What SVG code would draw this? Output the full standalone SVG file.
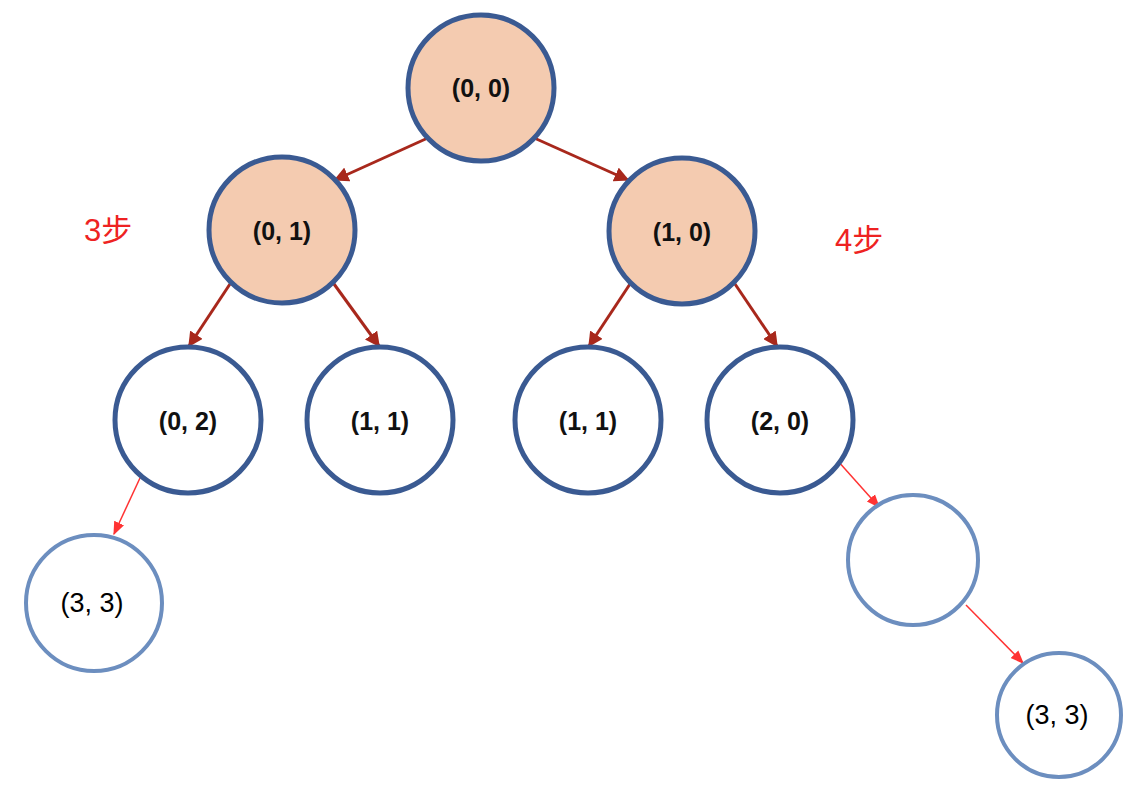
<svg xmlns="http://www.w3.org/2000/svg" width="1143" height="788" viewBox="0 0 1143 788">
<style>
.n{stroke:#3a5a92;stroke-width:5}
.f{fill:#f4cbb0}
.w{fill:#fff}
.m{fill:#fff;stroke:#6c8ebf;stroke-width:4}
.t{font-family:"Liberation Sans",Arial,sans-serif;font-size:25px;font-weight:bold;fill:#111;text-anchor:middle;dominant-baseline:central}
.u{font-family:"Liberation Sans",Arial,sans-serif;font-size:27px;fill:#000;text-anchor:middle;dominant-baseline:central}
.s{font-family:"Liberation Sans","Noto Sans CJK SC",sans-serif;font-size:31px;fill:#ee2222}
.e1{stroke:#a8281c;stroke-width:3;fill:none}
.e2{stroke:#ff3333;stroke-width:1.5;fill:none}
</style>
<defs>
<marker id="a1" viewBox="0 0 10 10" refX="9" refY="5" markerWidth="5" markerHeight="5" orient="auto" markerUnits="strokeWidth"><path d="M0,0L10,5L0,10z" fill="#a8281c"/></marker>
<marker id="a2" viewBox="0 0 10 10" refX="9" refY="5" markerWidth="9" markerHeight="9" orient="auto" markerUnits="strokeWidth"><path d="M0,1L10,5L0,9z" fill="#ff3333"/></marker>
</defs>
<rect width="1143" height="788" fill="#fff"/>
<g id="edges">
<line class="e1" x1="430" y1="137" x2="335" y2="180" marker-end="url(#a1)"/>
<line class="e1" x1="532" y1="137" x2="628" y2="180" marker-end="url(#a1)"/>
<line class="e1" x1="230" y1="284" x2="189" y2="346" marker-end="url(#a1)"/>
<line class="e1" x1="334" y1="284" x2="379" y2="346" marker-end="url(#a1)"/>
<line class="e1" x1="630" y1="284" x2="589" y2="346" marker-end="url(#a1)"/>
<line class="e1" x1="735" y1="284" x2="777" y2="346" marker-end="url(#a1)"/>
<line class="e2" x1="140" y1="478" x2="114" y2="534" marker-end="url(#a2)"/>
<line class="e2" x1="837" y1="460" x2="879" y2="507" marker-end="url(#a2)"/>
<line class="e2" x1="966" y1="605" x2="1023" y2="663" marker-end="url(#a2)"/>
</g>
<g id="n00"><circle class="n f" cx="481" cy="88" r="73"/><text class="t" x="481" y="88">(0, 0)</text></g>
<g id="n01"><circle class="n f" cx="282" cy="230" r="73"/><text class="t" x="282" y="231">(0, 1)</text></g>
<g id="n10"><circle class="n f" cx="682" cy="231" r="73"/><text class="t" x="682" y="232">(1, 0)</text></g>
<g id="n02"><circle class="n w" cx="188" cy="420" r="73"/><text class="t" x="188" y="421">(0, 2)</text></g>
<g id="n11a"><circle class="n w" cx="380" cy="420" r="73"/><text class="t" x="380" y="421">(1, 1)</text></g>
<g id="n11b"><circle class="n w" cx="588" cy="420" r="73"/><text class="t" x="588" y="421">(1, 1)</text></g>
<g id="n20"><circle class="n w" cx="780" cy="420" r="73"/><text class="t" x="780" y="421">(2, 0)</text></g>
<g id="n33a"><circle class="m" cx="94" cy="603" r="68"/><text class="u" x="92" y="603">(3, 3)</text></g>
<g id="nempty"><circle class="m" cx="913" cy="560" r="65"/></g>
<g id="n33b"><circle class="m" cx="1059" cy="715" r="62"/><text class="u" x="1057" y="715">(3, 3)</text></g>
<g id="labels">
<text class="s" x="84" y="241">3步</text>
<text class="s" x="835" y="251">4步</text>
</g>
</svg>
